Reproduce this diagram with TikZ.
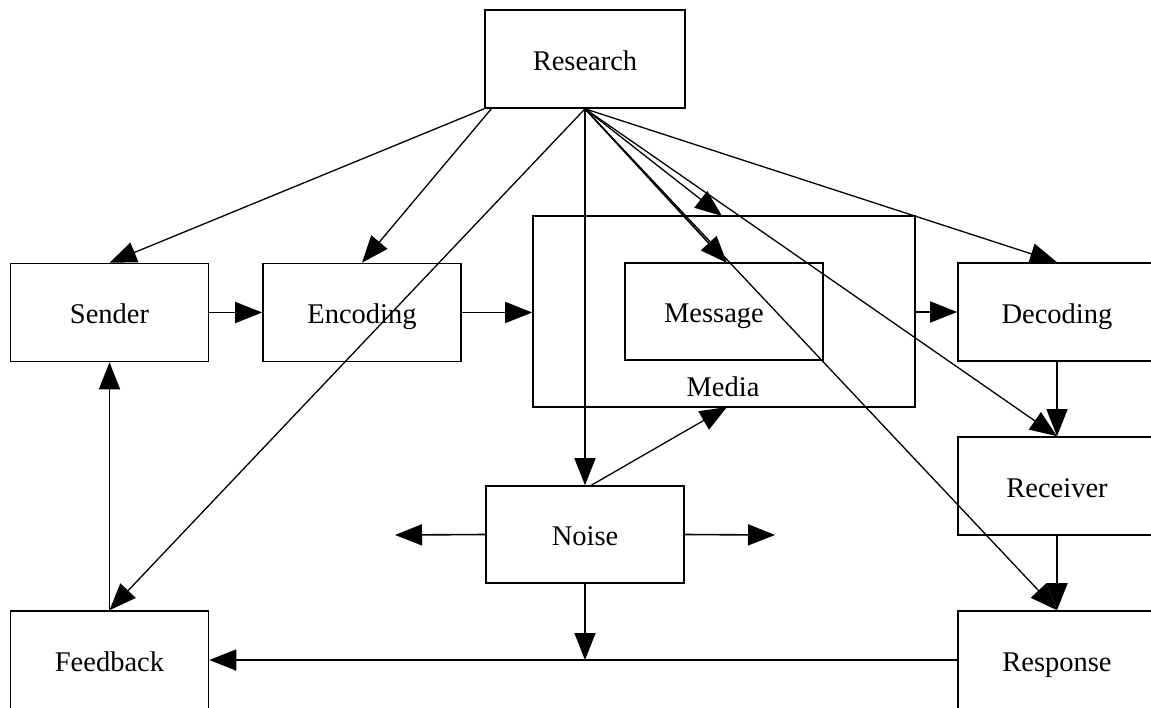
\documentclass[tikz,border=0pt]{standalone}
\usepackage{fontspec}
\setmainfont{Liberation Serif}
\usetikzlibrary{arrows.meta}
\begin{document}
\begin{tikzpicture}[x=1pt,y=-1pt,
  line width=1.6pt,
  >={Triangle[length=27pt,width=21pt]},
  box/.style={draw, line width=1.6pt, minimum width=198pt, minimum height=98pt,
    inner sep=0pt, text height=24pt, text depth=2pt,
    font=\fontsize{28.5}{32}\selectfont},
  lbl/.style={inner sep=0pt, text height=24pt, text depth=2pt,
    font=\fontsize{28.5}{32}\selectfont},
  link/.style={->, line width=1.3pt}]
\useasboundingbox (0,0) rectangle (1151,707);
% boxes
\node[box, minimum width=200pt] (research) at (585,59) {Research};
\node[box] (sender)   at (109.5,312.5) {Sender};
\node[box] (encoding) at (362,312.5) {Encoding};
\node[draw, line width=1.6pt, minimum width=382pt, minimum height=191pt, inner sep=0pt] (media) at (724,311.5) {};
\node[lbl] (medialbl) at (723,385.5) {Media};
\node[box, minimum height=97pt] (message) at (724,311.5) {};
\node[lbl] (messagelbl) at (714,311.5) {Message};
\node[box] (decoding) at (1057,312) {Decoding};
\node[box] (receiver) at (1057,486) {Receiver};
\node[box] (response) at (1057,660) {Response};
\node[box] (feedback) at (109.5,660) {Feedback};
\node[box, minimum height=97pt] (noise) at (585,534.5) {Noise};
% free ends and offsets
\coordinate (rsw) at (research.south west);
\coordinate (renc) at (492,108);
\coordinate (rs) at (research.south);
\coordinate (mediatop) at (722,216);
\coordinate (messagetop) at (727,263);
\coordinate (noisetop) at (590,486);
\coordinate (mediabot) at (727,407);
\coordinate (noiseleft) at (395,535);
\coordinate (noiseright) at (775,535);
\coordinate (fbline) at (noise.south |- response.west);
% main chain
\draw[->] (sender.east) -- (encoding.west);
\draw[->] (encoding.east) -- (encoding.east -| media.west);
\draw[->] (media.east |- decoding.west) -- (decoding.west);
\draw[->] (decoding.south) -- (receiver.north);
\draw[->] (receiver.south) -- (response.north);
\draw[->] (response.west) -- (feedback.east);
\draw[->] (feedback.north) -- (sender.south);
% noise
\draw[->] (noise.south) -- (fbline);
\draw[->] (noise.west) -- (noiseleft);
\draw[->] (noise.east) -- (noiseright);
\draw[link] (noisetop) -- (mediabot);
% research fan
\draw[link] (rsw) -- (sender.north);
\draw[link] (renc) -- (encoding.north);
\draw[link] (rs) -- (feedback.north);
\draw[->] (rs) -- (noise.north);
\draw[link] (rs) -- (mediatop);
\draw[->] (rs) -- (messagetop);
\draw[link] (rs) -- (decoding.north);
\draw[link] (rs) -- (receiver.north);
\draw[link] (rs) -- (response.north);
\end{tikzpicture}
\end{document}
